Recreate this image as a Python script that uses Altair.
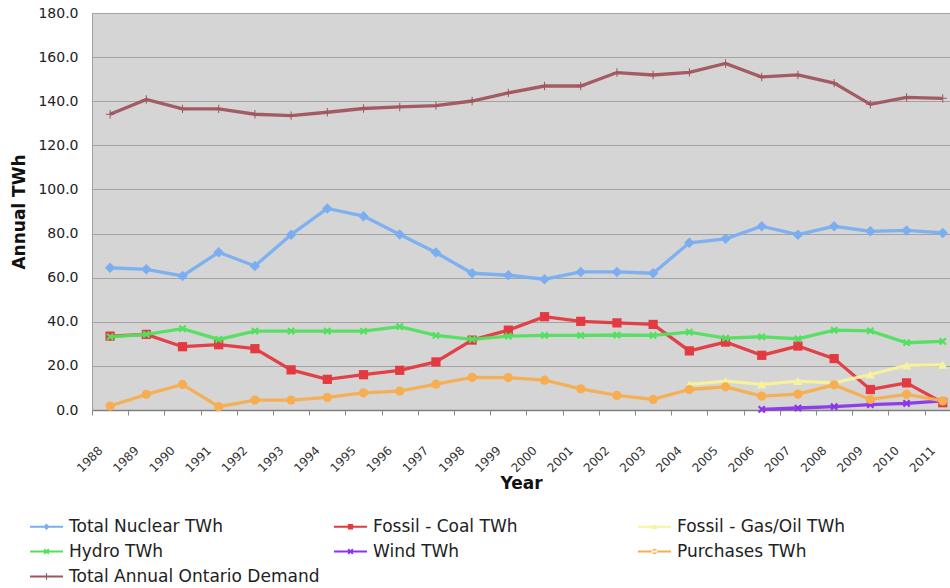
import altair as alt
import pandas as pd

# Ontario annual electricity supply by source, 1988-2011 (TWh)
years = list(range(1988, 2012))

nuclear = [64.5, 63.8, 60.8, 71.5, 65.3, 79.5, 91.4, 87.9, 79.6, 71.4, 62.0, 61.1,
           59.3, 62.6, 62.6, 62.0, 75.8, 77.6, 83.3, 79.5, 83.3, 81.0, 81.4, 80.3]
coal = [33.5, 34.3, 28.7, 29.6, 27.8, 18.2, 13.9, 16.0, 18.0, 21.8, 31.7, 36.2,
        42.3, 40.2, 39.5, 38.8, 26.8, 30.8, 24.8, 29.0, 23.3, 9.3, 12.3, 3.3]
gas_oil = [None] * 16 + [11.6, 13.1, 11.6, 13.1, 12.3, 16.1, 20.2, 20.5]
hydro = [33.2, 34.3, 36.9, 32.0, 35.8, 35.8, 35.8, 35.8, 37.8, 33.8, 32.0, 33.5,
         33.8, 33.8, 34.0, 33.8, 35.3, 32.6, 33.2, 32.3, 36.2, 35.9, 30.5, 31.1]
wind = [None] * 18 + [0.3, 0.9, 1.5, 2.4, 3.0, 4.1]
purchases = [1.8, 7.1, 11.6, 1.5, 4.5, 4.5, 5.7, 7.8, 8.6, 11.7, 14.8, 14.7,
             13.5, 9.6, 6.6, 4.8, 9.3, 10.5, 6.3, 7.2, 11.4, 4.8, 7.1, 4.1]
demand = [134.1, 140.8, 136.5, 136.5, 134.1, 133.5, 135.0, 136.7, 137.4, 138.0, 140.1, 143.8,
          146.9, 146.9, 153.0, 151.9, 153.1, 157.1, 151.0, 151.9, 148.2, 138.6, 141.7, 141.3]

series_names = ["Total Nuclear TWh", "Fossil - Coal TWh", "Fossil - Gas/Oil TWh",
                "Hydro TWh", "Wind TWh", "Purchases TWh", "Total Annual Ontario Demand"]
series_values = [nuclear, coal, gas_oil, hydro, wind, purchases, demand]
series_colors = ["#7aaef0", "#e23a40", "#f7f29c", "#52e05e", "#8a35ec", "#f6ae50", "#a0545e"]

# marker glyphs drawn on the data points
X_MARK = "M-1,-0.6L-0.6,-1L0,-0.4L0.6,-1L1,-0.6L0.4,0L1,0.6L0.6,1L0,0.4L-0.6,1L-1,0.6L-0.4,0Z"
PLUS_MARK = "M-1,-0.12H-0.12V-1H0.12V-0.12H1V0.12H0.12V1H-0.12V0.12H-1Z"
marker_shapes = ["diamond", "square", "triangle-up", X_MARK, X_MARK, "circle", PLUS_MARK]
marker_sizes = [110, 85, 85, 60, 60, 85, 70]

# legend glyphs: a short line segment with the series marker on it
LINE = "M-1,-0.06H1V0.06H-1Z"
SMALL_X = "M-0.18,-0.1L-0.1,-0.18L0,-0.08L0.1,-0.18L0.18,-0.1L0.08,0L0.18,0.1L0.1,0.18L0,0.08L-0.1,0.18L-0.18,0.1L-0.08,0Z"
legend_shapes = [
    LINE + "M0,-0.2L0.2,0L0,0.2L-0.2,0Z",
    LINE + "M-0.16,-0.16H0.16V0.16H-0.16Z",
    LINE + "M0,-0.18L0.19,0.14H-0.19Z",
    LINE + SMALL_X,
    LINE + SMALL_X,
    LINE + "M-0.17,0A0.17,0.17,0,1,0,0.17,0A0.17,0.17,0,1,0,-0.17,0Z",
    LINE + "M-0.035,-0.2H0.035V0.2H-0.035Z",
]

rows = []
for name, values in zip(series_names, series_values):
    for yr, v in zip(years, values):
        if v is not None:
            rows.append({"year": yr, "value": v, "series": name})
df = pd.DataFrame(rows)

x_enc = alt.X(
    "year:Q",
    scale=alt.Scale(domain=[1987.5, 2011.2], nice=False, zero=False),
    axis=alt.Axis(
        values=[y - 0.5 for y in years],
        labelExpr="format(datum.value + 0.5, 'd')",
        labelAngle=-45, labelAlign="right", labelBaseline="middle",
        labelOffset=8, labelPadding=33, labelFlush=False, labelOverlap=False,
        labelFontSize=12, labelColor="#333333",
        tickSize=5, tickColor="#888888", domainColor="#808080", domainWidth=1.5,
        grid=False, title="Year", titleFontSize=17, titleFontWeight="bold",
        titleColor="#111111", titlePadding=2,
    ),
)
y_enc = alt.Y(
    "value:Q",
    scale=alt.Scale(domain=[0, 180], nice=False),
    axis=alt.Axis(
        values=list(range(0, 181, 20)), format=".1f", ticks=False,
        labelPadding=14, labelFontSize=14, labelColor="#222222",
        gridColor="#a4a4a4", gridWidth=1, domainColor="#a0a0a0", domainWidth=1,
        title="Annual TWh", titleFontSize=17, titleFontWeight="bold",
        titleColor="#111111", titlePadding=9,
    ),
)

base = alt.Chart(df).encode(x=x_enc, y=y_enc)

# legend: invisible points carrying the colour + glyph legend
legend_def = alt.Legend(
    title=None, orient="none", legendX=-62, legendY=497, direction="horizontal",
    columns=3, gridAlign="all", columnPadding=14, rowPadding=-7,
    symbolSize=1089, symbolOpacity=1, symbolStrokeWidth=0,
    labelFont="DejaVu Sans", labelFontSize=17, labelColor="#222222",
    labelLimit=400, labelOffset=6,
)
legend_layer = base.mark_point(filled=True, opacity=0).encode(
    color=alt.Color("series:N", scale=alt.Scale(domain=series_names, range=series_colors), legend=legend_def),
    shape=alt.Shape("series:N", scale=alt.Scale(domain=series_names, range=legend_shapes), legend=legend_def),
)

# one line + marker pair per series, drawn in series order
layers = [legend_layer]
for name, color, shape, size in zip(series_names, series_colors, marker_shapes, marker_sizes):
    sub = base.transform_filter(alt.datum.series == name)
    layers.append(sub.mark_line(strokeWidth=3.3, opacity=0.95, color=color))
    layers.append(sub.mark_point(filled=True, opacity=1, shape=shape, size=size, color=color))

chart = (
    alt.layer(*layers)
    .properties(
        width=858, height=397,
        autosize=alt.AutoSizeParams(type="none"),
        padding={"left": 92, "top": 13, "right": 0, "bottom": 178},
        background="white",
    )
    .configure_view(fill="#d5d5d5", stroke=None)
    .configure_axis(labelFont="DejaVu Sans", titleFont="DejaVu Sans")
)

chart.save("out.html", embed_options={"renderer": "svg", "actions": False})
